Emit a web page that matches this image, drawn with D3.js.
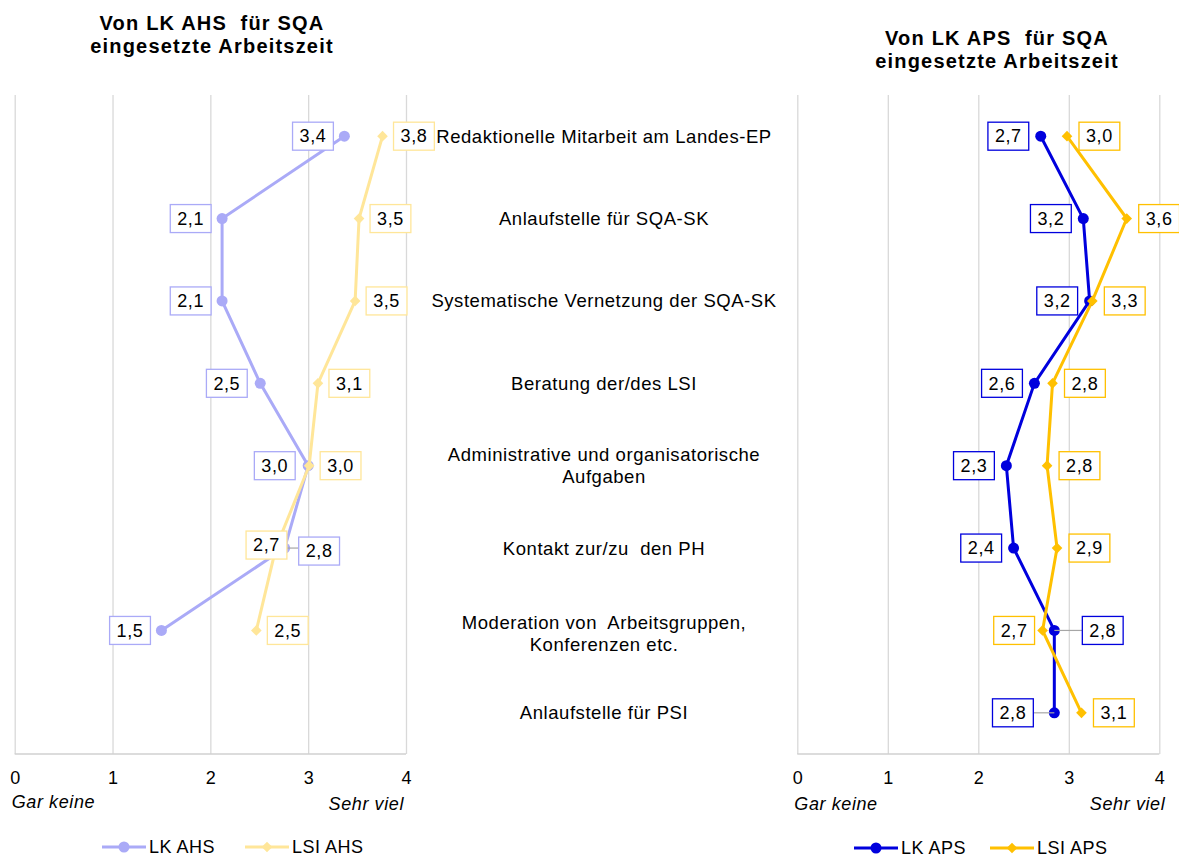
<!DOCTYPE html>
<html>
<head>
<meta charset="utf-8">
<script src="https://cdn.jsdelivr.net/npm/d3@7"></script>
<style>
body { margin: 0; background: #fff; }
svg { font-family: "Liberation Sans", Arial, sans-serif; }
text { white-space: pre; }
</style>
</head>
<body>
<script>
// categories (top to bottom)
var categories = [
    "Redaktionelle Mitarbeit am Landes-EP",
    "Anlaufstelle für SQA-SK",
    "Systematische Vernetzung der SQA-SK",
    "Beratung der/des LSI",
    "Administrative und organisatorische\nAufgaben",
    "Kontakt zur/zu  den PH",
    "Moderation von  Arbeitsgruppen,\nKonferenzen etc.",
    "Anlaufstelle für PSI"
];
// AHS panel (no value for the last category)
var lkAHS = [3.37, 2.12, 2.12, 2.51, 3.0, 2.76, 1.5, null];
var lsiAHS = [3.76, 3.52, 3.48, 3.1, 3.01, 2.67, 2.47, null];
// APS panel
var lkAPS = [2.69, 3.16, 3.23, 2.62, 2.31, 2.39, 2.84, 2.84];
var lsiAPS = [2.98, 3.64, 3.26, 2.82, 2.76, 2.87, 2.71, 3.14];
var tickValues = [0, 1, 2, 3, 4];
var axisEndLabels = ["Gar keine", "Sehr viel"];

var W = 1179, H = 857;
var plotTop = 95, plotBottom = 754;
var FONT = 18;

var svg = d3.select("body").append("svg")
    .attr("width", W)
    .attr("height", H);

var y = d3.scalePoint()
    .domain(d3.range(categories.length))
    .range([plotTop, plotBottom])
    .padding(0.5);

function fmt(v) { return v.toFixed(1).replace(".", ","); }
function marker(type) {
    return d3.symbol().type(type).size(type === d3.symbolCircle ? 95 : 72);
}

// label layout: default side + gap, with a few per-point exceptions
function drawPanel(cfg) {
    var x = d3.scaleLinear().domain([0, 4]).range(cfg.range);
    var g = svg.append("g");

    // vertical gridlines
    g.append("g")
        .attr("transform", "translate(0," + plotBottom + ")")
        .call(d3.axisBottom(x).tickValues(tickValues).tickSize(-(plotBottom - plotTop)).tickFormat(""))
        .call(function (a) {
            a.select(".domain").remove();
            a.selectAll("line").attr("stroke", "#d9d9d9").attr("stroke-width", 1.3);
        });
    g.append("line")
        .attr("x1", x(0)).attr("x2", x(4))
        .attr("y1", plotBottom).attr("y2", plotBottom)
        .attr("stroke", "#d0d0d0").attr("stroke-width", 1.5);

    // tick labels
    g.append("g")
        .attr("transform", "translate(0," + plotBottom + ")")
        .call(d3.axisBottom(x).tickValues(tickValues).tickSize(0).tickPadding(17).tickFormat(d3.format("d")))
        .call(function (a) {
            a.select(".domain").remove();
            a.selectAll("text")
                .attr("font-size", FONT)
                .attr("font-family", "Liberation Sans, Arial, sans-serif")
                .attr("fill", "#000");
        });
    g.append("text")
        .attr("x", x(0) - 3).attr("y", cfg.endY[0])
        .attr("font-size", FONT).attr("font-style", "italic")
        .style("letter-spacing", "0.6px")
        .text(axisEndLabels[0]);
    g.append("text")
        .attr("x", x(4) + cfg.endRight).attr("y", cfg.endY[1])
        .attr("text-anchor", "end")
        .attr("font-size", FONT).attr("font-style", "italic")
        .style("letter-spacing", "0.6px")
        .text(axisEndLabels[1]);

    // title
    var t = g.append("text")
        .attr("x", cfg.titleX).attr("y", cfg.titleY)
        .attr("text-anchor", "middle")
        .attr("font-size", 20).attr("font-weight", "bold")
        .style("letter-spacing", "1.2px");
    cfg.title.forEach(function (s, i) {
        t.append("tspan").attr("x", cfg.titleX).attr("dy", i ? 23 : 0).text(s);
    });

    var line = d3.line()
        .defined(function (d) { return d != null; })
        .x(function (d) { return x(d); })
        .y(function (d, i) { return y(i); });

    // lines + markers
    cfg.series.forEach(function (s) {
        var pts = s.values.map(function (v, i) { return { v: v, i: i }; })
            .filter(function (d) { return d.v != null; });
        g.append("path")
            .datum(s.values)
            .attr("d", line)
            .attr("fill", "none")
            .attr("stroke", s.color)
            .attr("stroke-width", 3);
        g.append("g").selectAll("path")
            .data(pts)
            .enter().append("path")
            .attr("transform", function (d) { return "translate(" + x(d.v) + "," + y(d.i) + ")"; })
            .attr("d", marker(s.symbol))
            .attr("fill", s.color);
    });

    // data labels
    cfg.series.forEach(function (s) {
        s.values.forEach(function (v, i) {
            if (v == null) return;
            var o = Object.assign({ side: s.side, gap: s.gap, dy: 0, leader: false }, s.labels[i] || {});
            var px = x(v), py = y(i) + o.dy;
            var lg = g.append("g");
            var txt = lg.append("text")
                .attr("font-size", FONT)
                .attr("text-anchor", "middle")
                .attr("dy", "0.35em")
                .style("letter-spacing", "0.6px")
                .text(fmt(v));
            var tw = txt.node().getComputedTextLength();
            var bw = tw + 14, bh = 28;
            var bx = o.side === "left" ? px - o.gap - bw : px + o.gap;
            if (o.leader) {
                lg.insert("line", "text")
                    .attr("x1", px).attr("x2", o.side === "left" ? bx + bw : bx)
                    .attr("y1", y(i)).attr("y2", y(i))
                    .attr("stroke", "#a6a6a6").attr("stroke-width", 1.2);
            }
            lg.insert("rect", "text")
                .attr("x", bx).attr("y", py - bh / 2)
                .attr("width", bw).attr("height", bh)
                .attr("fill", "#fff")
                .attr("stroke", s.color)
                .attr("stroke-width", 1.3);
            txt.attr("x", bx + bw / 2).attr("y", py);
        });
    });

    // legend
    var leg = g.append("g");
    cfg.series.forEach(function (s, k) {
        var lx = cfg.legendX[k], ly = cfg.legendY;
        leg.append("line")
            .attr("x1", lx).attr("x2", lx + 44)
            .attr("y1", ly).attr("y2", ly)
            .attr("stroke", s.color).attr("stroke-width", 3);
        leg.append("path")
            .attr("transform", "translate(" + (lx + 22) + "," + ly + ")")
            .attr("d", marker(s.symbol))
            .attr("fill", s.color);
        leg.append("text")
            .attr("x", lx + 47).attr("y", ly)
            .attr("dy", "0.35em")
            .attr("font-size", FONT)
            .style("letter-spacing", "0.5px")
            .text(s.name);
    });
}

drawPanel({
    range: [14.7, 406],
    title: ["Von LK AHS  für SQA", "eingesetzte Arbeitszeit"],
    titleX: 212, titleY: 30,
    endY: [808, 810], endRight: -2,
    legendX: [102, 245], legendY: 847,
    series: [
        { name: "LK AHS", values: lkAHS, color: "#aaaaf7", symbol: d3.symbolCircle, side: "left", gap: 11,
          labels: { 3: { gap: 13 }, 4: { gap: 13 }, 5: { side: "right", gap: 14, dy: 3, leader: true } } },
        { name: "LSI AHS", values: lsiAHS, color: "#ffe699", symbol: d3.symbolDiamond2, side: "right", gap: 11,
          labels: { 5: { side: "left", gap: -11, dy: -3 } } }
    ]
});

drawPanel({
    range: [797.3, 1159.3],
    title: ["Von LK APS  für SQA", "eingesetzte Arbeitszeit"],
    titleX: 997, titleY: 45,
    endY: [810, 810], endRight: 6,
    legendX: [854, 990], legendY: 848,
    series: [
        { name: "LK APS", values: lkAPS, color: "#0000dd", symbol: d3.symbolCircle, side: "left", gap: 12,
          labels: { 6: { side: "right", gap: 28, leader: true }, 7: { gap: 21, leader: true } } },
        { name: "LSI APS", values: lsiAPS, color: "#ffc000", symbol: d3.symbolDiamond2, side: "right", gap: 12,
          labels: { 6: { side: "left", gap: 8 } } }
    ]
});

// category labels in the middle
var cat = svg.append("g").selectAll("text")
    .data(categories)
    .enter().append("text")
    .attr("x", 604)
    .attr("text-anchor", "middle")
    .attr("font-size", 18.5)
    .style("letter-spacing", "0.55px")
    .attr("y", function (d, i) {
        var n = d.split("\n").length;
        return y(i) - (n - 1) * 21.6 / 2 + (i === 6 ? 3 : 0);
    });
cat.each(function (d) {
    var el = d3.select(this);
    d.split("\n").forEach(function (s, k) {
        el.append("tspan").attr("x", 604).attr("dy", k ? 21.6 : "0.35em").text(s);
    });
});
</script>
</body>
</html>
